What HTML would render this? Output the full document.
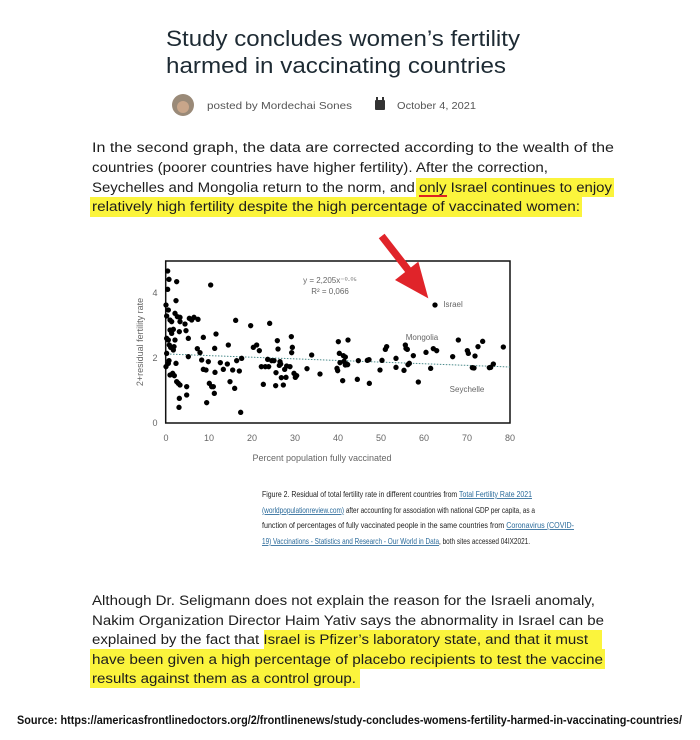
<!DOCTYPE html>
<html><head><meta charset="utf-8"><style>
html,body{margin:0;padding:0;background:#fff;}
svg{display:block;}
text{font-family:"Liberation Sans",sans-serif;}
</style></head><body>
<svg width="700" height="740" viewBox="0 0 700 740" xmlns="http://www.w3.org/2000/svg">
<rect width="700" height="740" fill="#fff"/>
<text x="166" y="46" font-size="22" fill="#1d2a33" textLength="354" lengthAdjust="spacingAndGlyphs">Study concludes women’s fertility</text>
<text x="166" y="73" font-size="22" fill="#1d2a33" textLength="340" lengthAdjust="spacingAndGlyphs">harmed in vaccinating countries</text>
<circle cx="183" cy="105" r="11" fill="#9a8a78"/>
<circle cx="183" cy="107" r="6" fill="#c9a68a"/>
<text x="207" y="109" font-size="10.5" fill="#555" textLength="145" lengthAdjust="spacingAndGlyphs">posted by Mordechai Sones</text>
<rect x="375" y="100" width="10" height="10" rx="1" fill="#333"/>
<rect x="376" y="97" width="2" height="4" fill="#333"/><rect x="382" y="97" width="2" height="4" fill="#333"/>
<text x="397" y="109" font-size="10.5" fill="#555" textLength="79" lengthAdjust="spacingAndGlyphs">October 4, 2021</text>
<rect x="416" y="178" width="198" height="19" fill="#fbf43c"/>
<rect x="90" y="197" width="492" height="20" fill="#fbf43c"/>
<g font-size="13.5" fill="#1d1d1d">
<text x="92" y="152" textLength="522" lengthAdjust="spacingAndGlyphs">In the second graph, the data are corrected according to the wealth of the</text>
<text x="92" y="172" textLength="456" lengthAdjust="spacingAndGlyphs">countries (poorer countries have higher fertility). After the correction,</text>
<text x="92" y="192" textLength="520" lengthAdjust="spacingAndGlyphs">Seychelles and Mongolia return to the norm, and only Israel continues to enjoy</text>
<text x="92" y="211" textLength="488" lengthAdjust="spacingAndGlyphs">relatively high fertility despite the high percentage of vaccinated women:</text>
</g>
<rect x="419" y="195" width="28" height="2" fill="#d22"/>
<rect x="165.7" y="261" width="344.3" height="162" fill="none" stroke="#111" stroke-width="1.5"/>
<g font-size="9" fill="#666" text-anchor="middle">
<text x="166" y="441">0</text><text x="209" y="441">10</text><text x="252" y="441">20</text><text x="295" y="441">30</text>
<text x="338" y="441">40</text><text x="381" y="441">50</text><text x="424" y="441">60</text><text x="467" y="441">70</text><text x="510" y="441">80</text>
<text x="155" y="426">0</text><text x="155" y="361">2</text><text x="155" y="296">4</text>
<text x="322" y="461">Percent population fully vaccinated</text>
<text transform="translate(143,342) rotate(-90)">2+residual fertility rate</text>
<text x="330" y="283" font-size="8">y = 2,205x⁻⁰·⁰⁵</text>
<text x="330" y="294" font-size="8">R² = 0,066</text>
<text x="453" y="307" font-size="8">Israel</text>
<text x="422" y="340" font-size="8">Mongolia</text>
<text x="467" y="392" font-size="8">Seychelle</text>
</g>
<line x1="167" y1="354" x2="510" y2="367" stroke="#4a8a8a" stroke-width="1" stroke-dasharray="1.5,1.5"/>
<g transform="translate(120,230) scale(0.33333)" fill="#000">
<circle cx="143" cy="123" r="8"/><circle cx="147" cy="148" r="8"/><circle cx="143" cy="178" r="8"/><circle cx="170" cy="155" r="8"/><circle cx="138" cy="225" r="8"/><circle cx="140" cy="258" r="8"/><circle cx="145" cy="240" r="8"/><circle cx="150" cy="270" r="8"/><circle cx="155" cy="275" r="8"/><circle cx="160" cy="298" r="8"/><circle cx="150" cy="300" r="8"/><circle cx="155" cy="310" r="8"/><circle cx="145" cy="330" r="8"/><circle cx="140" cy="325" r="8"/><circle cx="148" cy="345" r="8"/><circle cx="152" cy="352" r="8"/><circle cx="160" cy="360" r="8"/><circle cx="140" cy="370" r="8"/><circle cx="147" cy="392" r="8"/><circle cx="138" cy="410" r="8"/><circle cx="145" cy="400" r="8"/><circle cx="150" cy="435" r="8"/><circle cx="158" cy="430" r="8"/><circle cx="168" cy="400" r="8"/><circle cx="165" cy="250" r="8"/><circle cx="168" cy="212" r="8"/><circle cx="172" cy="260" r="8"/><circle cx="180" cy="275" r="8"/><circle cx="178" cy="305" r="8"/><circle cx="165" cy="330" r="8"/><circle cx="162" cy="350" r="8"/><circle cx="163" cy="437" r="8"/><circle cx="170" cy="455" r="8"/><circle cx="175" cy="460" r="8"/><circle cx="180" cy="465" r="8"/><circle cx="178" cy="505" r="8"/><circle cx="177" cy="532" r="8"/><circle cx="180" cy="262" r="8"/><circle cx="195" cy="282" r="8"/><circle cx="198" cy="302" r="8"/><circle cx="200" cy="470" r="8"/><circle cx="205" cy="325" r="8"/><circle cx="200" cy="495" r="8"/><circle cx="205" cy="380" r="8"/><circle cx="208" cy="265" r="8"/><circle cx="215" cy="270" r="8"/><circle cx="222" cy="262" r="8"/><circle cx="234" cy="268" r="8"/><circle cx="232" cy="356" r="8"/><circle cx="240" cy="368" r="8"/><circle cx="245" cy="390" r="8"/><circle cx="250" cy="322" r="8"/><circle cx="250" cy="418" r="8"/><circle cx="258" cy="420" r="8"/><circle cx="260" cy="518" r="8"/><circle cx="265" cy="395" r="8"/><circle cx="268" cy="460" r="8"/><circle cx="272" cy="165" r="8"/><circle cx="275" cy="470" r="8"/><circle cx="280" cy="470" r="8"/><circle cx="283" cy="490" r="8"/><circle cx="284" cy="355" r="8"/><circle cx="288" cy="312" r="8"/><circle cx="285" cy="427" r="8"/><circle cx="301" cy="398" r="8"/><circle cx="310" cy="418" r="8"/><circle cx="322" cy="402" r="8"/><circle cx="325" cy="345" r="8"/><circle cx="330" cy="455" r="8"/><circle cx="338" cy="420" r="8"/><circle cx="344" cy="475" r="8"/><circle cx="347" cy="271" r="8"/><circle cx="350" cy="392" r="8"/><circle cx="358" cy="423" r="8"/><circle cx="362" cy="547" r="8"/><circle cx="365" cy="385" r="8"/><circle cx="392" cy="287" r="8"/><circle cx="400" cy="352" r="8"/><circle cx="410" cy="345" r="8"/><circle cx="418" cy="362" r="8"/><circle cx="424" cy="410" r="8"/><circle cx="430" cy="463" r="8"/><circle cx="436" cy="410" r="8"/><circle cx="443" cy="388" r="8"/><circle cx="446" cy="410" r="8"/><circle cx="449" cy="280" r="8"/><circle cx="455" cy="392" r="8"/><circle cx="462" cy="392" r="8"/><circle cx="468" cy="428" r="8"/><circle cx="467" cy="467" r="8"/><circle cx="472" cy="332" r="8"/><circle cx="474" cy="357" r="8"/><circle cx="478" cy="406" r="8"/><circle cx="480" cy="395" r="8"/><circle cx="482" cy="402" r="8"/><circle cx="484" cy="443" r="8"/><circle cx="490" cy="465" r="8"/><circle cx="494" cy="418" r="8"/><circle cx="500" cy="408" r="8"/><circle cx="498" cy="442" r="8"/><circle cx="510" cy="410" r="8"/><circle cx="514" cy="320" r="8"/><circle cx="517" cy="352" r="8"/><circle cx="515" cy="368" r="8"/><circle cx="522" cy="430" r="8"/><circle cx="526" cy="442" r="8"/><circle cx="530" cy="437" r="8"/><circle cx="561" cy="416" r="8"/><circle cx="575" cy="375" r="8"/><circle cx="600" cy="432" r="8"/><circle cx="651" cy="415" r="8"/><circle cx="653" cy="422" r="8"/><circle cx="655" cy="335" r="8"/><circle cx="658" cy="370" r="8"/><circle cx="660" cy="398" r="8"/><circle cx="668" cy="452" r="8"/><circle cx="670" cy="377" r="8"/><circle cx="672" cy="394" r="8"/><circle cx="676" cy="405" r="8"/><circle cx="676" cy="381" r="8"/><circle cx="680" cy="402" r="8"/><circle cx="684" cy="330" r="8"/><circle cx="683" cy="404" r="8"/><circle cx="712" cy="448" r="8"/><circle cx="715" cy="392" r="8"/><circle cx="742" cy="391" r="8"/><circle cx="747" cy="389" r="8"/><circle cx="748" cy="460" r="8"/><circle cx="780" cy="420" r="8"/><circle cx="786" cy="391" r="8"/><circle cx="796" cy="358" r="8"/><circle cx="800" cy="350" r="8"/><circle cx="828" cy="385" r="8"/><circle cx="828" cy="412" r="8"/><circle cx="852" cy="421" r="8"/><circle cx="856" cy="345" r="8"/><circle cx="858" cy="355" r="8"/><circle cx="862" cy="358" r="8"/><circle cx="864" cy="404" r="8"/><circle cx="868" cy="400" r="8"/><circle cx="880" cy="377" r="8"/><circle cx="895" cy="456" r="8"/><circle cx="918" cy="367" r="8"/><circle cx="932" cy="415" r="8"/><circle cx="940" cy="356" r="8"/><circle cx="945" cy="225" r="8"/><circle cx="950" cy="362" r="8"/><circle cx="998" cy="380" r="8"/><circle cx="1015" cy="330" r="8"/><circle cx="1042" cy="362" r="8"/><circle cx="1045" cy="370" r="8"/><circle cx="1057" cy="413" r="8"/><circle cx="1062" cy="414" r="8"/><circle cx="1065" cy="378" r="8"/><circle cx="1074" cy="350" r="8"/><circle cx="1088" cy="334" r="8"/><circle cx="1108" cy="413" r="8"/><circle cx="1112" cy="412" r="8"/><circle cx="1120" cy="402" r="8"/><circle cx="1150" cy="351" r="8"/>
<line x1="785" y1="18" x2="880" y2="140" stroke="#e0242a" stroke-width="22"/>
<polygon points="825,150 895,95 925,205" fill="#e0242a"/>
</g>
<g font-size="8.6" fill="#222">
<text x="262" y="497" textLength="270" lengthAdjust="spacingAndGlyphs">Figure 2. Residual of total fertility rate in different countries from <tspan fill="#2a6a9a" text-decoration="underline">Total Fertility Rate 2021</tspan></text>
<text x="262" y="513" textLength="273" lengthAdjust="spacingAndGlyphs"><tspan fill="#2a6a9a" text-decoration="underline">(worldpopulationreview.com)</tspan>  after accounting for association with national GDP per capita, as a</text>
<text x="262" y="528" textLength="312" lengthAdjust="spacingAndGlyphs">function of percentages of fully vaccinated people in the same countries from <tspan fill="#2a6a9a" text-decoration="underline">Coronavirus (COVID-</tspan></text>
<text x="262" y="544" textLength="268" lengthAdjust="spacingAndGlyphs"><tspan fill="#2a6a9a" text-decoration="underline">19) Vaccinations - Statistics and Research - Our World in Data</tspan>, both sites accessed 04IX2021.</text>
</g>
<rect x="264" y="630" width="338" height="20" fill="#fbf43c"/>
<rect x="90" y="649" width="515" height="20" fill="#fbf43c"/>
<rect x="90" y="668" width="270" height="20" fill="#fbf43c"/>
<g font-size="13.5" fill="#1d1d1d">
<text x="92" y="605" textLength="503" lengthAdjust="spacingAndGlyphs">Although Dr. Seligmann does not explain the reason for the Israeli anomaly,</text>
<text x="92" y="625" textLength="512" lengthAdjust="spacingAndGlyphs">Nakim Organization Director Haim Yativ says the abnormality in Israel can be</text>
<text x="92" y="644" textLength="496" lengthAdjust="spacingAndGlyphs">explained by the fact that Israel is Pfizer’s laboratory state, and that it must</text>
<text x="92" y="664" textLength="511" lengthAdjust="spacingAndGlyphs">have been given a high percentage of placebo recipients to test the vaccine</text>
<text x="92" y="683" textLength="264" lengthAdjust="spacingAndGlyphs">results against them as a control group.</text>
</g>
<text x="17" y="724" font-size="12" font-weight="bold" fill="#111" textLength="665" lengthAdjust="spacingAndGlyphs">Source: https://americasfrontlinedoctors.org/2/frontlinenews/study-concludes-womens-fertility-harmed-in-vaccinating-countries/</text>
</svg>
</body></html>
